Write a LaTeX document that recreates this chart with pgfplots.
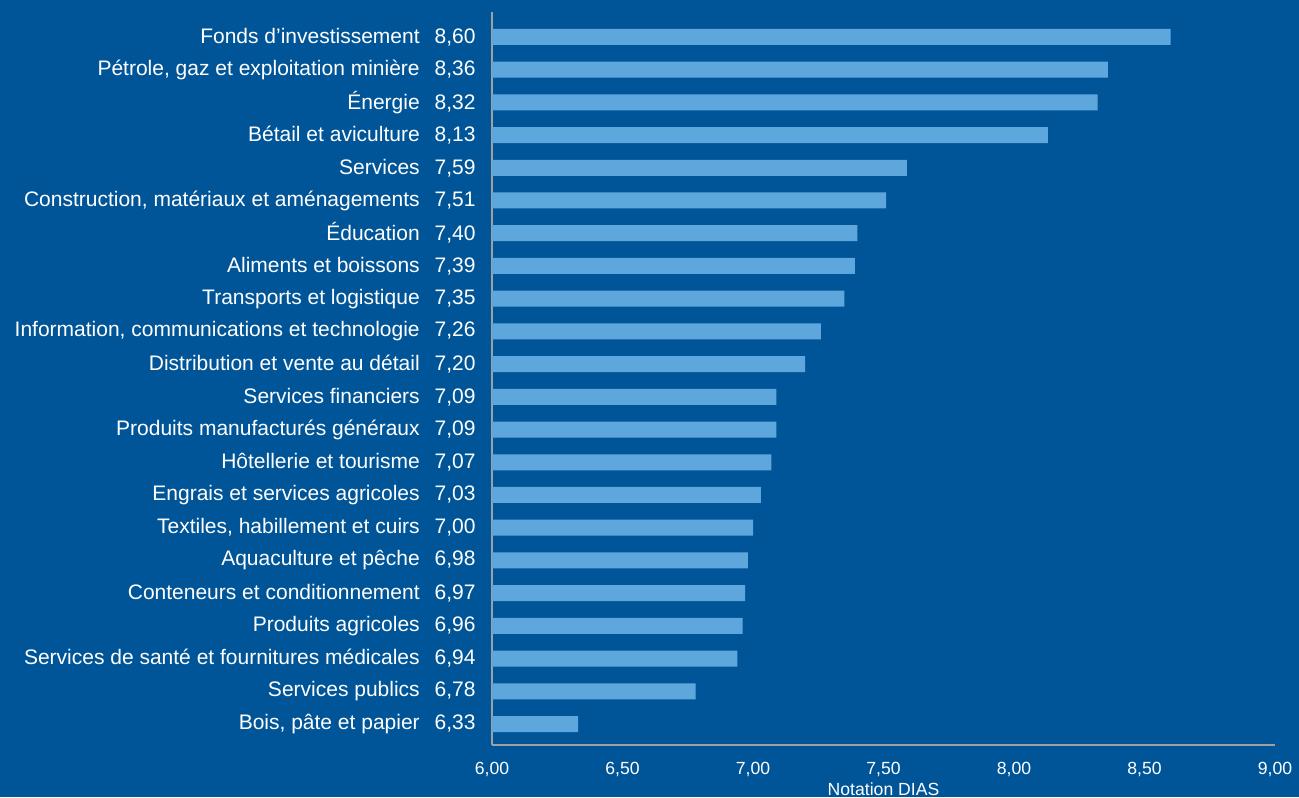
\documentclass[border=0pt]{standalone}
\usepackage{fontspec}
\setmainfont{Liberation Sans}
\usepackage{pgfplots}
\pgfplotsset{compat=1.18}
\definecolor{bgblue}{RGB}{0,85,152}
\definecolor{barblue}{RGB}{94,167,221}
\definecolor{axgray}{RGB}{160,160,160}
\begin{document}
\begin{tikzpicture}
\fill[bgblue] (0,0) rectangle (649.5pt,398.5pt);
\useasboundingbox (0,0) rectangle (649.5pt,398.5pt);
\begin{axis}[
  at={(246pt,26pt)}, anchor=south west,
  scale only axis, width=391.5pt, height=366.5pt,
  xbar, bar width=8pt,
  xmin=6, xmax=9, ymin=-0.64, ymax=21.76,
  xtick={6,6.5,7,7.5,8,8.5,9},
  ytick={0,...,21},
  yticklabels={
    {Bois, pâte et papier\hspace{7.5pt}6,33},
    {Services publics\hspace{7.5pt}6,78},
    {Services de santé et fournitures médicales\hspace{7.5pt}6,94},
    {Produits agricoles\hspace{7.5pt}6,96},
    {Conteneurs et conditionnement\hspace{7.5pt}6,97},
    {Aquaculture et pêche\hspace{7.5pt}6,98},
    {Textiles, habillement et cuirs\hspace{7.5pt}7,00},
    {Engrais et services agricoles\hspace{7.5pt}7,03},
    {Hôtellerie et tourisme\hspace{7.5pt}7,07},
    {Produits manufacturés généraux\hspace{7.5pt}7,09},
    {Services financiers\hspace{7.5pt}7,09},
    {Distribution et vente au détail\hspace{7.5pt}7,20},
    {Information, communications et technologie\hspace{7.5pt}7,26},
    {Transports et logistique\hspace{7.5pt}7,35},
    {Aliments et boissons\hspace{7.5pt}7,39},
    {Éducation\hspace{7.5pt}7,40},
    {Construction, matériaux et aménagements\hspace{7.5pt}7,51},
    {Services\hspace{7.5pt}7,59},
    {Bétail et aviculture\hspace{7.5pt}8,13},
    {Énergie\hspace{7.5pt}8,32},
    {Pétrole, gaz et exploitation minière\hspace{7.5pt}8,36},
    {Fonds d’investissement\hspace{7.5pt}8,60}},
  axis x line*=bottom, axis y line*=left,
  axis line style={axgray, line width=1.2pt, -},
  major tick length=0pt,
  tick style={draw=none},
  y tick label style={font=\fontsize{10.5}{12}\selectfont, text=white, inner sep=0pt, xshift=-8pt},
  x tick label style={font=\fontsize{8.8}{10}\selectfont, text=white, yshift=-5pt},
  xticklabel style={/pgf/number format/.cd, use comma, fixed, fixed zerofill, precision=2, assume math mode=true},
  xlabel={Notation DIAS},
  xlabel style={font=\fontsize{8.8}{10}\selectfont, text=white, yshift=4pt},
  clip=true,
]
\addplot[fill=barblue, draw=none] coordinates {
(6.33,0) (6.78,1) (6.94,2) (6.96,3) (6.97,4) (6.98,5) (7.00,6) (7.03,7)
(7.07,8) (7.09,9) (7.09,10) (7.20,11) (7.26,12) (7.35,13) (7.39,14)
(7.40,15) (7.51,16) (7.59,17) (8.13,18) (8.32,19) (8.36,20) (8.60,21)};
\end{axis}
\end{tikzpicture}
\end{document}
